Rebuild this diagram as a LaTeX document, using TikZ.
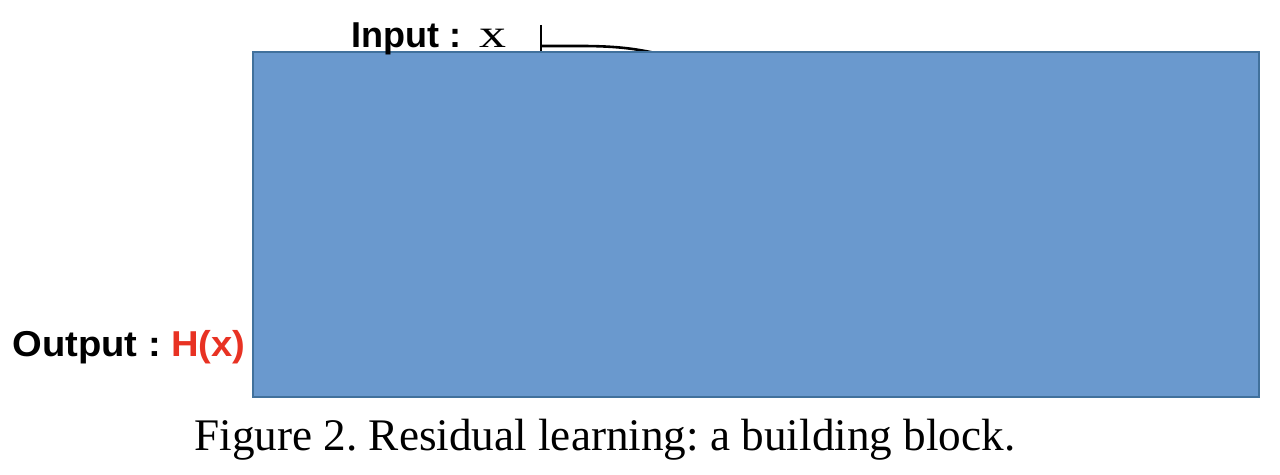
\documentclass[tikz,border=0pt]{standalone}
\usepackage{fontspec}
\setmainfont{Liberation Serif}
\setsansfont{Liberation Sans}
\frenchspacing
\definecolor{blockfill}{RGB}{106,153,206}
\definecolor{blockedge}{RGB}{65,113,156}
\definecolor{hred}{RGB}{232,50,35}
\tikzset{
  lbl/.style={anchor=base west, inner sep=0pt, font=\sffamily\bfseries\fontsize{18}{20}\selectfont},
  blockbox/.style={draw=blockedge, line width=1pt, fill=blockfill, anchor=north west, inner sep=0pt},
  wire/.style={line width=1.3pt, black}
}
\begin{document}
\begin{tikzpicture}[x=0.5pt,y=-0.5pt]
\useasboundingbox (0,0) rectangle (1280,475);
\coordinate (tickTop) at (541,25);
\coordinate (tickBot) at (541,51);
\coordinate (curveEnd) at (655,53);
\draw[wire] (tickTop) -- (tickBot);
\draw[wire] (541,46) -- (580,46) .. controls (612,46) and (632,48) .. (curveEnd);
\node[blockbox, minimum width=503pt, minimum height=172.5pt] (blk) at (252,51) {};
\node[lbl] (inlbl) at (351,48) {Input :};
\node[anchor=base west, inner sep=0pt, font=\fontsize{20}{22}\selectfont] (inx) at (479,48) {\scalebox{1.35}[1]{x}};
\node[lbl] (outlbl) at (12,357) {\scalebox{1.06}[1]{Output :~\textcolor{hred}{H(x)}}};
\node[anchor=base west, inner sep=0pt, font=\fontsize{22.6}{26}\selectfont] (cap) at (194,451) {\frenchspacing Figure 2. Residual learning: a building block.};
\end{tikzpicture}
\end{document}
